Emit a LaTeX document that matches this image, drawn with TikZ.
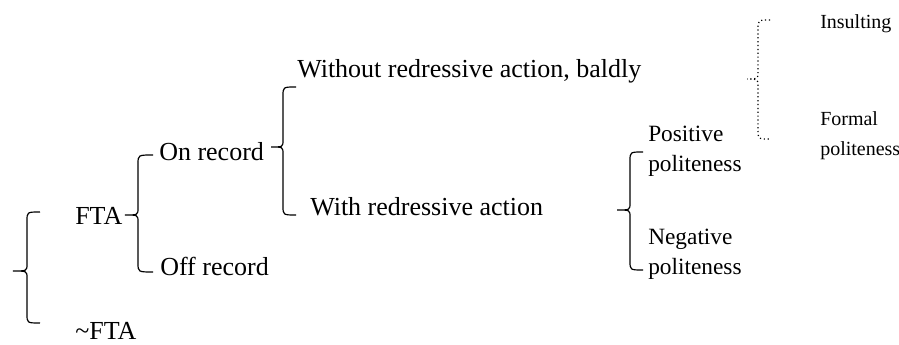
\documentclass[tikz,border=0pt]{standalone}
\usepackage{fontspec}
\setmainfont{Liberation Serif}
\tikzset{
  lbl/.style={anchor=base west, inner sep=0pt, font=\fontsize{19.5pt}{23pt}\selectfont, align=left},
  lblmid/.style={lbl, font=\fontsize{17.5pt}{23pt}\selectfont},
  lblsmall/.style={lbl, font=\fontsize{15pt}{23pt}\selectfont},
  brace/.style={draw=black, line width=0.9pt},
  dotbrace/.style={draw=black, line width=0.9pt, dotted}
}
% brace: #2 end x, #3 vertical x, #4 tip x, #5 top y, #6 tip y, #7 bottom y
\newcommand{\mybrace}[7][brace]{%
  \path[#1] (#2,#5) .. controls (#3,#5) .. (#3,#5+9) -- (#3,#6-7)
     .. controls (#3,#6) .. (#4,#6) .. controls (#3,#6) .. (#3,#6+7)
     -- (#3,#7-9) .. controls (#3,#7) .. (#2,#7);}
\begin{document}
\begin{tikzpicture}[x=0.75pt,y=-0.75pt]
\useasboundingbox (0,0) rectangle (899,345);
% texts (multi-line nodes placed at the baseline of their last line)
\node[lblsmall] (ins) at (820,29) {Insulting};
\node[lblsmall] (formal) at (820,156) {Formal\\politeness};
\node[lbl] (without) at (297,78) {Without redressive action, baldly};
\node[lblmid] (pos) at (648,172) {Positive\\politeness};
\node[lbl] (onrec) at (159,161) {On record};
\node[lbl] (withr) at (310,216) {With redressive action};
\node[lbl] (fta) at (75,225) {FTA};
\node[lblmid] (neg) at (648,275) {Negative\\politeness};
\node[lbl] (offrec) at (160,276) {Off record};
\node[lbl] (nfta) at (75,339) {\char`\~FTA};
% braces
\mybrace{40}{27}{13}{212}{271}{323}
\mybrace{153}{138}{125}{155}{215}{272}
\mybrace{296}{283}{271}{87}{147}{215}
\mybrace{643}{630}{617}{152}{210}{270}
\mybrace[dotbrace]{770}{758}{747}{20}{79}{139}
\end{tikzpicture}
\end{document}
